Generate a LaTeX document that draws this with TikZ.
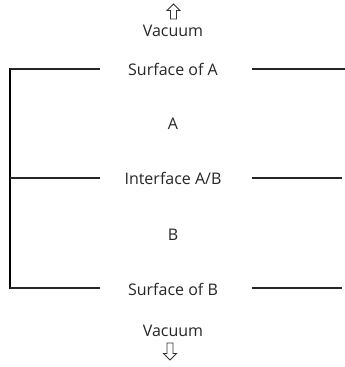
\documentclass[tikz,border=0pt]{standalone}
\usepackage{fontspec}
\setmainfont{Open Sans}
\begin{document}
\begin{tikzpicture}[x=1pt,y=1pt,
  lbl/.style={inner sep=0pt,text=black!85,font=\fontsize{16}{18}\selectfont},
  rule/.style={line width=1.4pt,black!85},
  vrule/.style={line width=2pt,black},
  hollow/.style={line width=0.8pt,black!80,line join=miter}]
\useasboundingbox (0,0) rectangle (345,367);
% texts
\node[lbl] (vt) at (173,336) {Vacuum};
\node[lbl] (sa) at (173,298) {Surface of A};
\node[lbl] (a)  at (173,243) {A};
\node[lbl] (ib) at (173,189) {Interface A/B};
\node[lbl] (b)  at (173,132) {B};
\node[lbl] (sb) at (173,78) {Surface of B};
\node[lbl] (vb) at (173,36) {Vacuum};
% line end coordinates
\coordinate (tl) at (10,298);
\coordinate (ml) at (10,189);
\coordinate (bl) at (10,79);
\coordinate (tlx) at (100,298);
\coordinate (mlx) at (100,189);
\coordinate (blx) at (100,79);
\coordinate (trs) at (252,298);
\coordinate (tre) at (345,298);
\coordinate (mrs) at (252,189);
\coordinate (mre) at (342,189);
\coordinate (brs) at (252,79);
\coordinate (bre) at (342,79);
\coordinate (vtop) at (10,299);
\coordinate (vbot) at (10,78);
\draw[vrule] (vtop) -- (vbot);
\draw[rule] (tl) -- (tlx);
\draw[rule] (ml) -- (mlx);
\draw[rule] (bl) -- (blx);
\draw[rule] (trs) -- (tre);
\draw[rule] (mrs) -- (mre);
\draw[rule] (brs) -- (bre);
% hollow arrows
\draw[hollow] (173.5,363) -- (180,356.5) -- (176.5,356.5) -- (176.5,348) -- (170.5,348) -- (170.5,356.5) -- (167,356.5) -- cycle;
\draw[hollow] (170,7) -- (176.5,13.5) -- (173,13.5) -- (173,24) -- (167,24) -- (167,13.5) -- (163.5,13.5) -- cycle;
\end{tikzpicture}
\end{document}
